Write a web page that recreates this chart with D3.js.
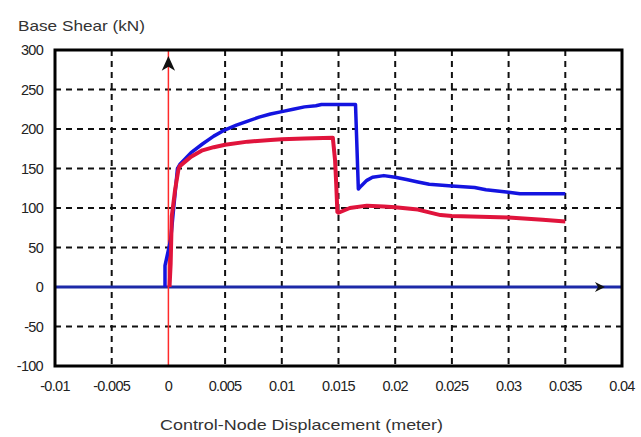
<!DOCTYPE html>
<html><head><meta charset="utf-8">
<script src="https://cdn.jsdelivr.net/npm/d3@7"></script>
<style>body{margin:0;background:#fff}svg{display:block}text{font-family:"Liberation Sans",Arial,sans-serif}</style>
</head><body><div id="chart"></div>
<script>
const xTicks = [-0.01,-0.005,0,0.005,0.01,0.015,0.02,0.025,0.03,0.035,0.04];
const xTickLabels = ["-0.01","-0.005","0","0.005","0.01","0.015","0.02","0.025","0.03","0.035","0.04"];
const yTicks = [-100,-50,0,50,100,150,200,250,300];
const blueX = [-0.0003,-0.0003,0.0002,0.0006,0.0008,0.001,0.002,0.003,0.004,0.005,0.006,0.007,0.008,0.009,0.01,0.011,0.012,0.013,0.0135,0.0165,0.01675,0.017,0.0175,0.018,0.019,0.02,0.021,0.022,0.023,0.025,0.027,0.028,0.03,0.031,0.035];
const blueY = [0,27,60,120,150,155,170,181,191,199,205,210,215,219,222,225,228,229.5,231,231,124,128,135,139,141,139,136,133,130,128,126,123,120,118,118];
const redX = [0.0001,0.0002,0.0003,0.0006,0.0009,0.001,0.002,0.003,0.004,0.005,0.007,0.009,0.01,0.012,0.0145,0.0147,0.0148,0.0149,0.015,0.016,0.0175,0.019,0.02,0.022,0.024,0.025,0.03,0.033,0.035];
const redY = [0,30,90,124,150,153,165,173,177,180,184,186,187,188,189,160,130,95,94,100,103,102,101,98,91,90,88,85,83];

const W=641,H=437, L=55, T=50, R=622, B=366;
const svg=d3.select("#chart").append("svg").attr("width",W).attr("height",H);
const x=d3.scaleLinear().domain([-0.01,0.04]).range([L,R]);
const y=d3.scaleLinear().domain([-100,300]).range([B,T]);

const grid=svg.append("g").attr("stroke","#111").attr("stroke-width",2).attr("stroke-dasharray","6,5");
grid.selectAll(".vx").data(xTicks.filter(d=>d!==0).slice(1,-1)).enter().append("line")
 .attr("x1",d=>x(d)).attr("x2",d=>x(d)).attr("y1",T).attr("y2",B);
grid.selectAll(".hy").data(yTicks.slice(1,-1)).enter().append("line")
 .attr("x1",L).attr("x2",R).attr("y1",d=>y(d)).attr("y2",d=>y(d));

// zero line (blue) and axis arrow
svg.append("line").attr("x1",L).attr("x2",R).attr("y1",y(0)).attr("y2",y(0))
 .attr("stroke","#1c2aa8").attr("stroke-width",3);
svg.append("path").attr("d",`M${x(0.0385)},${y(0)} l-10,-5 l3,5 l-3,5 z`).attr("fill","#111");
// red vertical axis
svg.append("line").attr("x1",x(0)).attr("x2",x(0)).attr("y1",T).attr("y2",B)
 .attr("stroke","#ff2a2a").attr("stroke-width",1.5);
svg.append("path").attr("d",`M${x(0)},${y(290)} l-5,11 l5,-3 l5,3 z`).attr("fill","#111").attr("stroke","#111").attr("stroke-width",1.5);

const blue=blueX.map((v,i)=>[v,blueY[i]]);
const red=redX.map((v,i)=>[v,redY[i]]);
svg.append("path").datum(blue).attr("d",d3.line().x(d=>x(d[0])).y(d=>y(d[1]))).attr("fill","none")
 .attr("stroke","#1414e0").attr("stroke-width",3.5).attr("stroke-linejoin","round");
svg.append("path").datum(red).attr("d",d3.line().x(d=>x(d[0])).y(d=>y(d[1]))).attr("fill","none")
 .attr("stroke","#e0143c").attr("stroke-width",4).attr("stroke-linejoin","round");

// frame
svg.append("rect").attr("x",L).attr("y",T).attr("width",R-L).attr("height",B-T)
 .attr("fill","none").attr("stroke","#000").attr("stroke-width",3);

// tick labels
svg.append("g").selectAll("text").data(yTicks).enter().append("text")
 .attr("x",L-12).attr("y",d=>y(d)+5).attr("text-anchor","end").attr("font-size",14.5)
 .attr("fill","#222").attr("letter-spacing",-0.7).text(d=>d);
svg.append("g").selectAll("text").data(xTicks).enter().append("text")
 .attr("x",d=>x(d)).attr("y",B+25).attr("text-anchor","middle").attr("font-size",14.5)
 .attr("fill","#222").attr("letter-spacing",-0.7).text((d,i)=>xTickLabels[i]);

svg.append("text").attr("x",18).attr("y",31).attr("font-size",15).attr("fill","#333")
 .attr("textLength",127).attr("lengthAdjust","spacingAndGlyphs").text("Base Shear (kN)");
svg.append("text").attr("x",160).attr("y",430).attr("font-size",15).attr("fill","#333")
 .attr("textLength",283).attr("lengthAdjust","spacingAndGlyphs").text("Control-Node Displacement (meter)");
</script></body></html>
